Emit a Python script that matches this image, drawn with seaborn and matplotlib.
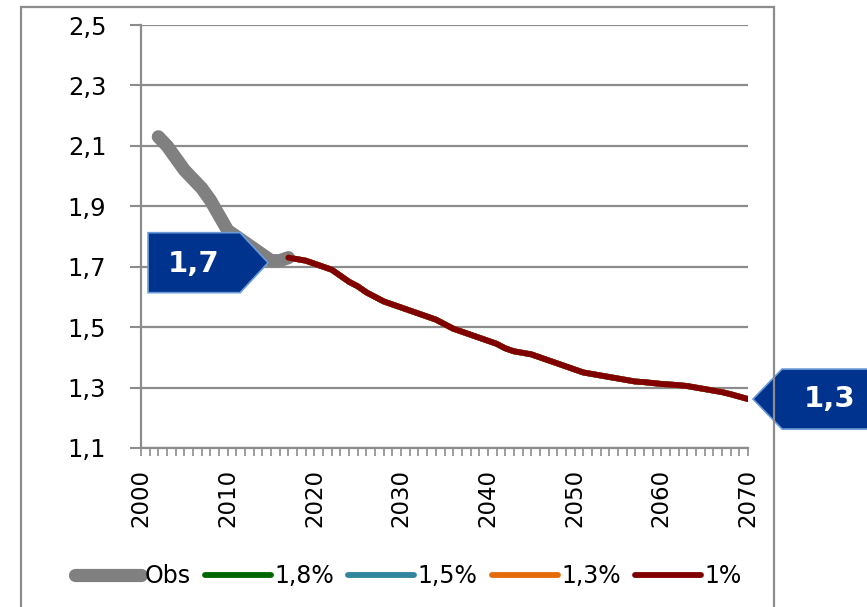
import numpy as np
import pandas as pd
import matplotlib
matplotlib.use("Agg")
import matplotlib.pyplot as plt
import matplotlib.transforms as mtransforms
from matplotlib.patches import Polygon, Rectangle
from matplotlib.ticker import MultipleLocator, FuncFormatter
import seaborn as sns

# observed fertility
obs_years = list(range(2002, 2018))
obs_values = [2.13, 2.10, 2.06, 2.02, 1.99, 1.96, 1.92, 1.87, 1.82, 1.80,
              1.78, 1.76, 1.74, 1.72, 1.72, 1.73]

# projections (all scenarios coincide on the picture)
proj_years = list(range(2017, 2071))
proj_1 = [1.730, 1.725, 1.720, 1.710, 1.700, 1.690, 1.670, 1.650, 1.635, 1.615,
          1.600, 1.585, 1.575, 1.565, 1.555, 1.545, 1.535, 1.525, 1.510, 1.495,
          1.485, 1.475, 1.465, 1.455, 1.445, 1.430, 1.420, 1.415, 1.410, 1.400,
          1.390, 1.380, 1.370, 1.360, 1.350, 1.345, 1.340, 1.335, 1.330, 1.325,
          1.320, 1.318, 1.315, 1.312, 1.310, 1.308, 1.305, 1.300, 1.295, 1.290,
          1.285, 1.278, 1.270, 1.262]
proj_18 = proj_1
proj_15 = proj_1
proj_13 = proj_1

series_names = ["Obs", "1,8%", "1,5%", "1,3%", "1%"]
series_colors = ["#808080", "#006600", "#31859C", "#E46C0A", "#800000"]
y_ticks = [1.1, 1.3, 1.5, 1.7, 1.9, 2.1, 2.3, 2.5]
x_ticks = [2000, 2010, 2020, 2030, 2040, 2050, 2060, 2070]

callout_left = "1,7"
callout_right = "1,3"

sns.set_style("white")
plt.rcParams["font.family"] = ["DejaVu Sans"]

fig = plt.figure(figsize=(8.67, 6.07), dpi=100)
ax = fig.add_axes([141 / 867, 1 - 448 / 607, (748 - 141) / 867, (448 - 25) / 607])

grid_col = "#8c8c8c"

# outer chart frame
fig.patches.append(Rectangle((21 / 867, -0.02), (774 - 21) / 867, 1 - 7 / 607 + 0.02,
                             transform=fig.transFigure, fill=False,
                             edgecolor=grid_col, linewidth=1.6))

df_obs = pd.DataFrame({"year": obs_years, "value": obs_values})
sns.lineplot(data=df_obs, x="year", y="value", ax=ax, color=series_colors[0],
             linewidth=9.5, solid_capstyle="round", solid_joinstyle="round", zorder=3)

for name, vals, col in zip(series_names[1:], [proj_18, proj_15, proj_13, proj_1],
                           series_colors[1:]):
    df = pd.DataFrame({"year": proj_years, "value": vals})
    sns.lineplot(data=df, x="year", y="value", ax=ax, color=col,
                 linewidth=4.2, solid_capstyle="round", solid_joinstyle="round", zorder=4)

ax.set_xlim(2000, 2070)
ax.set_ylim(1.1, 2.5)
ax.set_xlabel("")
ax.set_ylabel("")

ax.set_yticks(y_ticks)
ax.yaxis.set_major_formatter(FuncFormatter(lambda v, p: f"{v:.1f}".replace(".", ",")))
ax.set_xticks(x_ticks)
ax.xaxis.set_minor_locator(MultipleLocator(1))
ax.tick_params(axis="y", which="major", left=True, direction="out", length=8, width=1.5,
               color=grid_col, labelsize=17.5, pad=17, labelcolor="black")
ax.tick_params(axis="x", which="both", bottom=True, direction="out", length=6, width=1.2,
               color=grid_col)
ax.tick_params(axis="x", which="major", labelsize=16.5, pad=9, labelrotation=90,
               labelcolor="black")

ax.grid(axis="y", color=grid_col, linewidth=1.6)
ax.grid(axis="x", visible=False)
for s in ["top", "right"]:
    ax.spines[s].set_visible(False)
for s in ["left", "bottom"]:
    ax.spines[s].set_color(grid_col)
    ax.spines[s].set_linewidth(1.6)

# callouts
box_col = "#00338D"
edge_col = "#6A9BD8"


def callout(x, y, text, side):
    trans = fig.dpi_scale_trans + mtransforms.ScaledTranslation(x, y, ax.transData)
    if side == "left":
        verts = [(-0.03, -0.02), (-0.31, 0.28), (-1.23, 0.28), (-1.23, -0.32), (-0.31, -0.32)]
        tx = -0.77
    else:
        verts = [(0.05, 0.0), (0.34, 0.30), (1.4, 0.30), (1.4, -0.30), (0.34, -0.30)]
        tx = 0.82
    ax.add_patch(Polygon(verts, closed=True, transform=trans, facecolor=box_col,
                         edgecolor=edge_col, linewidth=1.2, clip_on=False, zorder=6))
    ax.text(tx, verts[0][1] - 0.01 if side == "left" else 0.0, text, transform=trans,
            color="white", fontsize=21, fontweight="bold", ha="center", va="center",
            clip_on=False, zorder=7)


callout(obs_years[13], obs_values[13], callout_left, "left")
callout(proj_years[-1], proj_1[-1], callout_right, "right")

# legend
handles = []
for i, (name, col) in enumerate(zip(series_names, series_colors)):
    lw = 9.5 if i == 0 else 4.2
    handles.append(plt.Line2D([], [], color=col, linewidth=lw, solid_capstyle="round"))
leg = fig.legend(handles, series_names, loc="center", bbox_to_anchor=(0.471, 1 - 576 / 607),
                 ncol=5, frameon=False, fontsize=17, handlelength=2.8, handletextpad=0.15,
                 columnspacing=0.6, borderpad=0)
for t in leg.get_texts():
    t.set_color("black")

fig.savefig("out.png", dpi=100)
